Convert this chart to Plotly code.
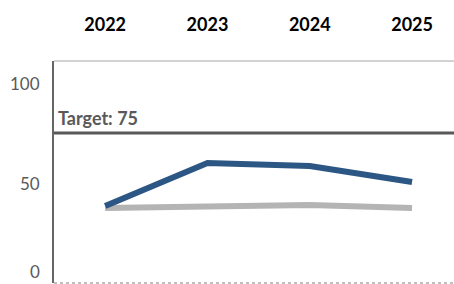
import plotly.graph_objects as go

years = ["2022", "2023", "2024", "2025"]
series_blue = [38.5, 60, 58.5, 50.5]
series_gray = [37.5, 38, 39, 37.5]
target = 75
target_label = "Target: 75"
y_ticks = [0, 50, 100]

FONT = "Lato"
DARK = "#595959"

fig = go.Figure()
fig.add_trace(go.Scatter(x=years, y=series_gray, mode="lines",
                         line=dict(color="#b4b4b4", width=6), hoverinfo="skip"))
fig.add_trace(go.Scatter(x=years, y=series_blue, mode="lines",
                         line=dict(color="#2c5785", width=6), hoverinfo="skip"))

# target line
fig.add_shape(type="line", xref="paper", yref="y", x0=0, x1=1, y0=target, y1=target,
              line=dict(color=DARK, width=3))
fig.add_annotation(xref="paper", yref="y", x=0, y=target, text="<b>%s</b>" % target_label,
                   showarrow=False, xanchor="left", yanchor="bottom", xshift=2, yshift=2,
                   font=dict(family=FONT, size=18, color=DARK))
# borders
fig.add_shape(type="line", xref="paper", yref="paper", x0=0, x1=1, y0=1, y1=1,
              line=dict(color="#a6a6a6", width=1))
fig.add_shape(type="line", xref="paper", yref="paper", x0=0, x1=1, y0=0, y1=0,
              line=dict(color="#bfbfbf", width=2, dash="dot"))

# y tick labels
for v in y_ticks:
    fig.add_annotation(xref="paper", yref="y", x=0, y=v, text=str(v), showarrow=False,
                       xanchor="right", yanchor="middle", xshift=-12,
                       yshift=12 if v == 0 else 0,
                       font=dict(family=FONT, size=17, color=DARK))

fig.update_layout(
    width=454, height=284,
    margin=dict(l=54, r=0, t=61, b=1),
    plot_bgcolor="white", paper_bgcolor="white",
    showlegend=False,
    xaxis=dict(type="category", side="top", range=[-0.5, 3.41], automargin=False,
               showgrid=False, zeroline=False, showline=False,
               ticks="outside", ticklen=22, tickcolor="rgba(0,0,0,0)",
               tickfont=dict(family=FONT, size=18, color="black", weight="bold")),
    yaxis=dict(range=[0, 111], showgrid=False, zeroline=False, showticklabels=False,
               automargin=False,
               showline=True, linecolor="#666666", linewidth=2),
)
fig.write_html("out.html", post_script="document.body.style.margin='0';",
               config={"displayModeBar": False})
